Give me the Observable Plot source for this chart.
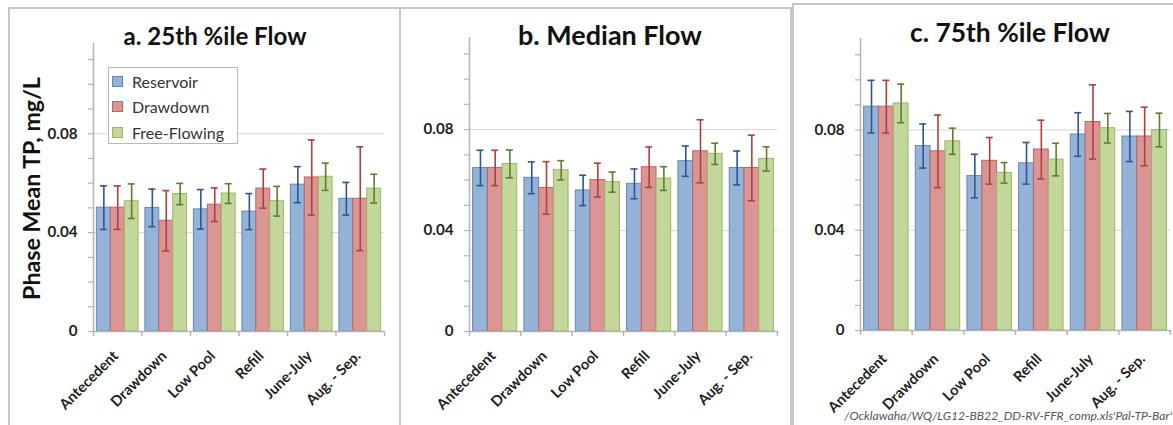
<!DOCTYPE html>
<html><head><meta charset="utf-8">
<script src="https://cdn.jsdelivr.net/npm/d3@7"></script>
<script src="https://cdn.jsdelivr.net/npm/@observablehq/plot@0.6"></script>
<style>
html,body{margin:0;padding:0;background:#fff;}
#root{position:relative;width:1173px;height:425px;overflow:hidden;font-family:Lato,"Open Sans",sans-serif;}
.frame{position:absolute;border:2px solid #c6c6c6;box-sizing:border-box;}
.panel{position:absolute;top:0;height:425px;}
.panel svg{max-width:none !important;display:block;}
#overlay{position:absolute;left:0;top:0;pointer-events:none;}
.legend{position:absolute;border:1px solid #b8b8b8;background:#fff;box-sizing:border-box;}
.legend .row{position:absolute;left:3px;height:20px;display:flex;align-items:center;color:#333;white-space:nowrap;}
.legend .sw{width:9px;height:9px;border:1px solid;margin-right:9px;flex:none;}
</style></head><body><div id="root"></div>
<script>
const phases = ["Antecedent", "Drawdown", "Low Pool", "Refill", "June-July", "Aug. - Sep."];
const seriesNames = ["Reservoir", "Drawdown", "Free-Flowing"];
const panelTitles = ["a. 25th %ile Flow", "b. Median Flow", "c. 75th %ile Flow"];
const yAxisTitle = "Phase Mean TP, mg/L";
const yTicksMajor = [0, 0.04, 0.08];
const yTicksMinor = [0, 0.01, 0.02, 0.03, 0.04, 0.05, 0.06, 0.07, 0.08, 0.09, 0.10, 0.11];
const yMax = 0.1165;
const footnote = "/Ocklawaha/WQ/LG12-BB22_DD-RV-FFR_comp.xls'Pal-TP-Bar'";

// a. 25th %ile Flow
const p25Reservoir    = [0.0501, 0.0500, 0.0494, 0.0485, 0.0594, 0.0537];
const p25ReservoirErr = [0.0088, 0.0076, 0.0080, 0.0073, 0.0073, 0.0066];
const p25Drawdown     = [0.0501, 0.0448, 0.0513, 0.0578, 0.0623, 0.0537];
const p25DrawdownErr  = [0.0088, 0.0122, 0.0068, 0.0079, 0.0152, 0.0210];
const p25FreeFlow     = [0.0527, 0.0556, 0.0558, 0.0527, 0.0626, 0.0578];
const p25FreeFlowErr  = [0.0070, 0.0043, 0.0040, 0.0060, 0.0055, 0.0058];
// b. Median Flow
const medReservoir    = [0.0648, 0.0609, 0.0559, 0.0585, 0.0675, 0.0648];
const medReservoirErr = [0.0070, 0.0063, 0.0060, 0.0059, 0.0060, 0.0067];
const medDrawdown     = [0.0648, 0.0569, 0.0600, 0.0651, 0.0714, 0.0648];
const medDrawdownErr  = [0.0070, 0.0104, 0.0067, 0.0080, 0.0125, 0.0130];
const medFreeFlow     = [0.0664, 0.0639, 0.0592, 0.0606, 0.0704, 0.0684];
const medFreeFlowErr  = [0.0055, 0.0038, 0.0040, 0.0047, 0.0042, 0.0048];
// c. 75th %ile Flow
const p75Reservoir    = [0.0893, 0.0736, 0.0616, 0.0667, 0.0782, 0.0774];
const p75ReservoirErr = [0.0105, 0.0088, 0.0087, 0.0083, 0.0087, 0.0100];
const p75Drawdown     = [0.0893, 0.0715, 0.0677, 0.0722, 0.0832, 0.0774];
const p75DrawdownErr  = [0.0105, 0.0145, 0.0093, 0.0117, 0.0148, 0.0117];
const p75FreeFlow     = [0.0906, 0.0755, 0.0629, 0.0682, 0.0807, 0.0800];
const p75FreeFlowErr  = [0.0077, 0.0052, 0.0041, 0.0065, 0.0059, 0.0067];

const fills   = ["#95b3d7", "#d99694", "#c3d69b"];
const strokes = ["#5f89c0", "#c3625f", "#9cb760"];
const errCols = ["#2f5597", "#b0403c", "#5f7d2e"];
const FONT = "Lato, 'Open Sans', sans-serif";

// text measuring, used to size fonts to the reference extents
const mSvg = d3.select("body").append("svg").attr("width", 10).attr("height", 10).style("position", "absolute").style("left", "-9999px");
function fitSize(text, target, weight = "normal", style = "normal") {
  const t = mSvg.append("text").attr("font-family", FONT).attr("font-size", 100).attr("font-weight", weight).attr("font-style", style).text(text);
  const w = t.node().getComputedTextLength();
  t.remove();
  return 100 * target / w;
}
const xFont = fitSize("Antecedent", 76, "bold");
const tickFont = fitSize("0.08", 30, "bold");

const panels = [
  {means: [p25Reservoir, p25Drawdown, p25FreeFlow], errs: [p25ReservoirErr, p25DrawdownErr, p25FreeFlowErr],
   left: 0, width: 400, ml: 93, mr: 16, mt: 43, mb: 94, xdy: 22},
  {means: [medReservoir, medDrawdown, medFreeFlow], errs: [medReservoirErr, medDrawdownErr, medFreeFlowErr],
   left: 400, width: 400, ml: 69, mr: 23, mt: 37, mb: 94, xdy: 22},
  {means: [p75Reservoir, p75Drawdown, p75FreeFlow], errs: [p75ReservoirErr, p75DrawdownErr, p75FreeFlowErr],
   left: 790, width: 383, ml: 70, mr: 3, mt: 38, mb: 95, xdy: 26}
];
const frames = [
  {left: 8, top: 7, width: 393, height: 430},
  {left: 399, top: 7, width: 393, height: 430},
  {left: 792, top: 3, width: 400, height: 430}
];
const titles = [
  {x: 215, y: 45, w: 183},
  {x: 610, y: 45, w: 184},
  {x: 1010, y: 42, w: 200}
];

const root = document.getElementById("root");
frames.forEach(f => {
  const d = document.createElement("div");
  d.className = "frame";
  Object.assign(d.style, {left: f.left + "px", top: f.top + "px", width: f.width + "px", height: f.height + "px"});
  root.appendChild(d);
});

panels.forEach((P, k) => {
  const data = seriesNames.flatMap((s, i) => phases.map((p, j) => ({phase: p, series: s, si: i, value: P.means[i][j], err: P.errs[i][j]})));
  const bw = (P.width - P.ml - P.mr) / phases.length;
  const pad = bw * 0.07;
  const w = (bw - 2 * pad) / 3;
  const capInset = (bw - 7) / 2;
  const marks = [
    Plot.ruleY(yTicksMajor.slice(1), {stroke: "#d6d6d6", strokeWidth: 1})
  ];
  seriesNames.forEach((s, i) => {
    const rows = data.filter(d => d.si === i);
    marks.push(Plot.barY(rows, {x: "phase", y: "value", fill: fills[i], stroke: strokes[i], strokeWidth: 1,
      insetLeft: pad + i * w, insetRight: pad + (2 - i) * w}));
  });
  seriesNames.forEach((s, i) => {
    const rows = data.filter(d => d.si === i);
    const o = {x: "phase", dx: (i - 1) * w, stroke: errCols[i], strokeWidth: 1.6};
    marks.push(Plot.ruleX(rows, {...o, y1: d => d.value - d.err, y2: d => d.value + d.err}));
    marks.push(Plot.tickY(rows, {...o, y: d => d.value + d.err, insetLeft: capInset, insetRight: capInset}));
    marks.push(Plot.tickY(rows, {...o, y: d => d.value - d.err, insetLeft: capInset, insetRight: capInset}));
  });
  const axisStroke = {stroke: "#b4b4b4", strokeWidth: 1.5};
  marks.push(
    Plot.ruleY([0], axisStroke),
    Plot.ruleX([phases[0]], {x: d => d, dx: -bw / 2, y1: 0, y2: yMax, ...axisStroke}),
    Plot.ruleX(phases, {x: d => d, dx: -bw / 2, y1: 0, y2: 0, insetBottom: -5, ...axisStroke}),
    Plot.ruleX([phases[phases.length - 1]], {x: d => d, dx: bw / 2, y1: 0, y2: 0, insetBottom: -5, ...axisStroke}),
    Plot.axisY(yTicksMinor, {tickSize: 5, tickFormat: () => "", stroke: "#b4b4b4", strokeWidth: 1.2, label: null}),
    Plot.axisY(yTicksMajor, {tickSize: 0, tickPadding: 16, tickFormat: d => d === 0 ? "0" : d.toFixed(2),
      fontSize: tickFont, fontWeight: "bold", fill: "#1e1e1e", label: null}),
    Plot.text(phases, {x: d => d, frameAnchor: "bottom", dx: -2, dy: P.xdy, rotate: -45, textAnchor: "end", lineAnchor: "middle",
      fontSize: xFont, fontWeight: "bold", fill: "#1e1e1e"})
  );
  const chart = Plot.plot({
    width: P.width, height: 425,
    marginLeft: P.ml, marginRight: P.mr, marginTop: P.mt, marginBottom: P.mb,
    x: {domain: phases, padding: 0, round: false, axis: null},
    y: {domain: [0, yMax], axis: null},
    style: {fontFamily: FONT, background: "transparent", overflow: "visible"},
    marks
  });
  const holder = document.createElement("div");
  holder.className = "panel";
  holder.style.left = P.left + "px";
  holder.style.width = P.width + "px";
  holder.appendChild(chart);
  root.appendChild(holder);
});

const ov = d3.select(root).append("svg").attr("id", "overlay").attr("width", 1173).attr("height", 425)
  .style("font-family", FONT);
titles.forEach((t, k) => {
  ov.append("text").attr("x", t.x).attr("y", t.y).attr("text-anchor", "middle")
    .attr("font-size", fitSize(panelTitles[k], t.w, "bold")).attr("font-weight", "bold").attr("fill", "#111").text(panelTitles[k]);
});
ov.append("text").attr("transform", "translate(39.5,188.5) rotate(-90)").attr("text-anchor", "middle")
  .attr("font-size", fitSize(yAxisTitle, 223, "bold")).attr("font-weight", "bold").attr("fill", "#111").text(yAxisTitle);
ov.append("text").attr("x", 1172).attr("y", 420).attr("text-anchor", "end")
  .attr("font-size", fitSize(footnote, 328, "normal", "italic")).attr("font-style", "italic").attr("fill", "#555").text(footnote);

const legendFont = fitSize("Free-Flowing", 92);
const lg = document.createElement("div");
lg.className = "legend";
Object.assign(lg.style, {left: "108px", top: "67px", width: "130px", height: "77px"});
seriesNames.forEach((s, i) => {
  const r = document.createElement("div");
  r.className = "row";
  r.style.top = (3 + i * 25.5) + "px";
  r.style.fontSize = legendFont + "px";
  const sw = document.createElement("span");
  sw.className = "sw";
  sw.style.background = fills[i];
  sw.style.borderColor = strokes[i];
  r.appendChild(sw);
  r.appendChild(document.createTextNode(s));
  lg.appendChild(r);
});
root.appendChild(lg);
</script>
</body></html>
